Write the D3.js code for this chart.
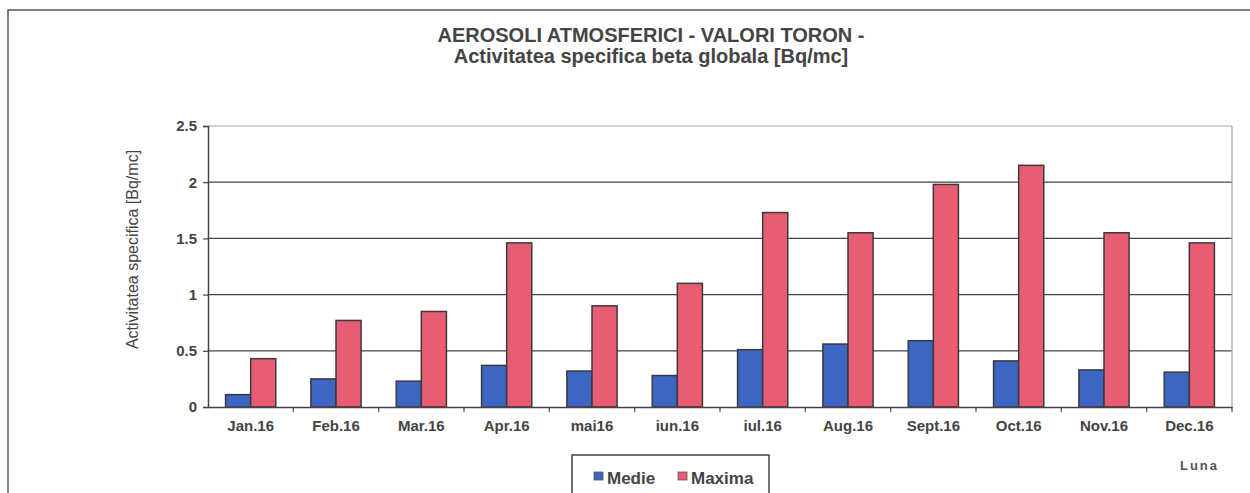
<html>
<head>
<script src="https://d3js.org/d3.v7.min.js"></script>
<style>
  body { margin: 0; background: #fff; }
  text { font-family: Arial, "Liberation Sans", sans-serif; }
</style>
</head>
<body>
<div id="chart"></div>
<script>
// data
var months = ["Jan.16", "Feb.16", "Mar.16", "Apr.16", "mai16", "iun.16", "iul.16", "Aug.16", "Sept.16", "Oct.16", "Nov.16", "Dec.16"];
var medie  = [0.11, 0.25, 0.23, 0.37, 0.32, 0.28, 0.51, 0.56, 0.59, 0.41, 0.33, 0.31];
var maxima = [0.43, 0.77, 0.85, 1.46, 0.90, 1.10, 1.73, 1.55, 1.98, 2.15, 1.55, 1.46];
var seriesNames = ["Medie", "Maxima"];
var yTicks = [0, 0.5, 1, 1.5, 2, 2.5];

var W = 1250, H = 493;
var plot = {left: 208, right: 1232, top: 126, bottom: 407};
var colors = {Medie: "#3d66c4", Maxima: "#e85d74"};
var ink = "#444";

var svg = d3.select("#chart").append("svg")
  .attr("width", W).attr("height", H);

// outer frame (cut at right/bottom like the scan)
svg.append("path")
  .attr("d", "M8,505 L8,10 L1262,10")
  .attr("fill", "none").attr("stroke", "#555").attr("stroke-width", 1.5);

// title
var title = svg.append("text").attr("text-anchor", "middle")
  .attr("font-weight", "bold").attr("font-size", 20).attr("fill", ink);
title.append("tspan").attr("x", 651).attr("y", 42).text("AEROSOLI ATMOSFERICI - VALORI TORON -");
title.append("tspan").attr("x", 651).attr("y", 63).text("Activitatea specifica beta globala [Bq/mc]");

var x = d3.scaleBand().domain(months).range([plot.left, plot.right]).paddingInner(0).paddingOuter(0);
var xs = d3.scaleBand().domain(seriesNames).range([0, x.bandwidth()]).paddingInner(0).paddingOuter(0.7);
var y = d3.scaleLinear().domain([0, 2.5]).range([plot.bottom, plot.top]);

// gridlines
svg.append("g").selectAll("line").data(yTicks.filter(function(d){ return d > 0; }))
  .enter().append("line")
  .attr("x1", plot.left).attr("x2", plot.right)
  .attr("y1", function(d){ return y(d); }).attr("y2", function(d){ return y(d); })
  .attr("stroke", function(d){ return d == 2.5 ? "#9aa6bd" : "#444"; })
  .attr("stroke-width", 1.2);

// right border of plot area
svg.append("line").attr("x1", plot.right).attr("x2", plot.right)
  .attr("y1", plot.top).attr("y2", plot.bottom)
  .attr("stroke", "#9aa6bd").attr("stroke-width", 1.2);

// bars
var rows = months.map(function(m, i){ return {month: m, Medie: medie[i], Maxima: maxima[i]}; });
var groups = svg.append("g").selectAll("g").data(rows).enter().append("g")
  .attr("transform", function(d){ return "translate(" + x(d.month) + ",0)"; });
groups.selectAll("rect")
  .data(function(d){ return seriesNames.map(function(s){ return {key: s, value: d[s]}; }); })
  .enter().append("rect")
  .attr("x", function(d){ return xs(d.key); })
  .attr("width", xs.bandwidth())
  .attr("y", function(d){ return y(d.value); })
  .attr("height", function(d){ return y(0) - y(d.value); })
  .attr("fill", function(d){ return colors[d.key]; })
  .attr("stroke", "#3a3a3a").attr("stroke-width", 1.5);

// y axis
var yAxis = svg.append("g").attr("transform", "translate(" + plot.left + ",0)")
  .call(d3.axisLeft(y).tickValues(yTicks).tickFormat(d3.format("")).tickSize(5).tickPadding(6));
yAxis.select(".domain").attr("stroke", ink).attr("stroke-width", 1.5);
yAxis.selectAll(".tick line").attr("stroke", ink).attr("stroke-width", 1.2);
yAxis.selectAll(".tick text").attr("font-size", 15).attr("font-weight", "bold").attr("fill", ink)
  .attr("font-family", "Arial, 'Liberation Sans', sans-serif");

// x axis: ticks between categories
var xAxis = svg.append("g").attr("transform", "translate(0," + plot.bottom + ")")
  .call(d3.axisBottom(x).tickSize(0).tickPadding(13));
xAxis.select(".domain").attr("stroke", ink).attr("stroke-width", 1.5);
xAxis.selectAll(".tick text").attr("font-size", 15).attr("font-weight", "bold").attr("fill", ink)
  .attr("font-family", "Arial, 'Liberation Sans', sans-serif");
svg.append("g").selectAll("line").data(months)
  .enter().append("line")
  .attr("x1", function(d){ return x(d) + x.bandwidth(); })
  .attr("x2", function(d){ return x(d) + x.bandwidth(); })
  .attr("y1", plot.bottom).attr("y2", plot.bottom + 5)
  .attr("stroke", ink).attr("stroke-width", 1.2);

// y axis title
svg.append("text")
  .attr("transform", "translate(138," + ((plot.top + plot.bottom) / 2 - 17) + ") rotate(-90)")
  .attr("text-anchor", "middle").attr("font-size", 16).attr("fill", ink)
  .text("Activitatea specifica [Bq/mc]");

// x axis title
svg.append("text").attr("x", 1219).attr("y", 470).attr("text-anchor", "end")
  .attr("font-size", 13).attr("font-weight", "bold").attr("fill", "#555")
  .attr("letter-spacing", 2).text("Luna");

// legend
var lg = svg.append("g");
lg.append("rect").attr("x", 572).attr("y", 455).attr("width", 197).attr("height", 50)
  .attr("fill", "#fff").attr("stroke", ink).attr("stroke-width", 1.5);
var items = lg.selectAll("g").data(seriesNames).enter().append("g")
  .attr("transform", function(d, i){ return "translate(" + (594 + i * 84) + ",0)"; });
items.append("rect").attr("x", 0).attr("y", 472).attr("width", 9).attr("height", 8)
  .attr("fill", function(d){ return colors[d]; }).attr("stroke", "#555").attr("stroke-width", 0.8);
items.append("text").attr("x", 13).attr("y", 484)
  .attr("font-size", 17).attr("font-weight", "bold").attr("fill", ink)
  .text(function(d){ return d; });
</script>
</body>
</html>
